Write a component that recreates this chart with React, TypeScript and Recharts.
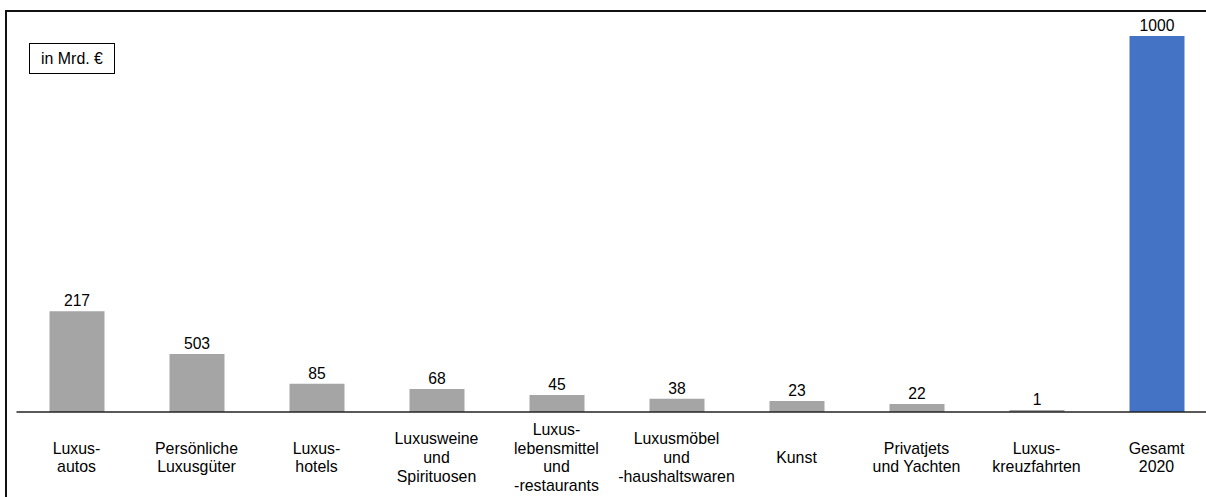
import { Bar, BarChart, Cell, LabelList, XAxis, YAxis } from 'recharts';

const categories = [
  'Luxus-\nautos',
  'Persönliche\nLuxusgüter',
  'Luxus-\nhotels',
  'Luxusweine\nund\nSpirituosen',
  'Luxus-\nlebensmittel\nund\n-restaurants',
  'Luxusmöbel\nund\n-haushaltswaren',
  'Kunst',
  'Privatjets\nund Yachten',
  'Luxus-\nkreuzfahrten',
  'Gesamt\n2020',
];
// bar heights as drawn (scale: Gesamt = 1000)
const barValues = [268, 154, 75, 61, 45, 35, 29, 21, 5, 1000];
// numbers printed above the bars
const valueLabels = ['217', '503', '85', '68', '45', '38', '23', '22', '1', '1000'];

const GRAY = '#a5a5a5';
const BLUE = '#4472c4';
const FONT = '"Liberation Sans", Arial, sans-serif';

const data = categories.map((name, i) => ({
  name,
  value: barValues[i],
  label: valueLabels[i],
  color: i === categories.length - 1 ? BLUE : GRAY,
}));

function CategoryTick({ x, y, payload }: any) {
  const lines = String(payload.value).split('\n');
  const lh = 18.7;
  const center = y + 45.5;
  const start = center - ((lines.length - 1) / 2) * lh;
  return (
    <text x={x} y={start} textAnchor="middle" fill="#000" fontSize={15.9} fontFamily={FONT}>
      {lines.map((l, i) => (
        <tspan key={i} x={x} y={start + i * lh} dominantBaseline="central">
          {l}
        </tspan>
      ))}
    </text>
  );
}

export default function App() {
  return (
    <div
      style={{
        position: 'fixed',
        left: 0,
        top: 0,
        width: 1206,
        height: 497,
        overflow: 'hidden',
        background: '#fff',
        fontFamily: FONT,
      }}
    >
      <div
        style={{
          position: 'absolute',
          left: 5,
          top: 10,
          width: 1300,
          height: 600,
          border: '2px solid #111',
          boxSizing: 'border-box',
        }}
      />
      <div style={{ position: 'absolute', left: 0, top: 0 }}>
        <BarChart
          width={1230}
          height={497}
          data={data}
          margin={{ top: 36, right: 13.5, left: 16.5, bottom: 0 }}
        >
          <XAxis
            dataKey="name"
            interval={0}
            height={85}
            tickLine={false}
            tickSize={0}
            tickMargin={0}
            axisLine={{ stroke: '#222', strokeWidth: 1.3 }}
            tick={<CategoryTick />}
          />
          <YAxis hide domain={[0, 1000]} />
          <Bar dataKey="value" barSize={55} isAnimationActive={false}>
            {data.map((d, i) => (
              <Cell key={i} fill={d.color} />
            ))}
            <LabelList
              dataKey="label"
              position="top"
              offset={5}
              fill="#000"
              fontSize={15.7}
              fontFamily={FONT}
            />
          </Bar>
        </BarChart>
      </div>
      <div
        style={{
          position: 'absolute',
          left: 29,
          top: 43,
          width: 86,
          height: 31,
          border: '1px solid #000',
          boxSizing: 'border-box',
          display: 'flex',
          alignItems: 'center',
          justifyContent: 'center',
          fontSize: 15.9,
          color: '#000',
          background: '#fff',
        }}
      >
        in Mrd. €
      </div>
    </div>
  );
}
